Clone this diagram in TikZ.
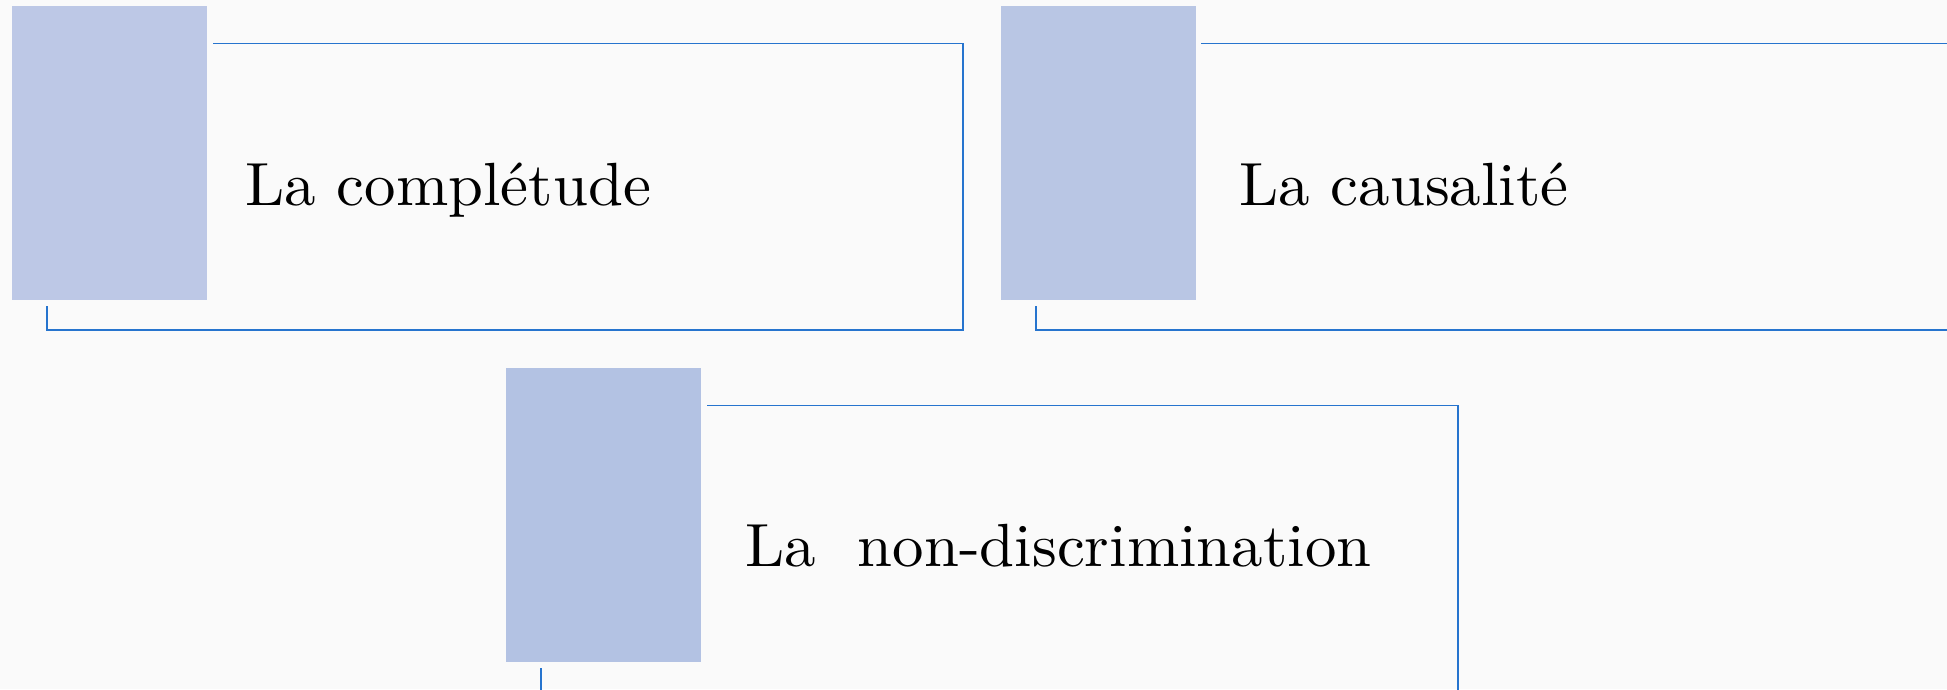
\documentclass[tikz,border=0pt]{standalone}
\usepackage{fontspec}
\newfontfamily\labelfont{lmroman10-regular}[Extension=.otf, FakeStretch=1.03]
\definecolor{bgc}{HTML}{FAFAFA}
\definecolor{linec}{RGB}{38,116,206}
\definecolor{boxa}{HTML}{BDC8E6}
\definecolor{boxb}{HTML}{B9C6E4}
\definecolor{boxc}{HTML}{B3C2E3}
\tikzset{
  tab/.style={draw=none, minimum width=195pt, minimum height=294pt, anchor=north west, inner sep=0pt},
  label/.style={anchor=base west, inner sep=0pt, font=\labelfont\fontsize{61}{70}\selectfont, text=black},
  bracket/.style={draw=linec, line width=1.6pt}
}
\begin{document}
\begin{tikzpicture}[x=1pt,y=-1pt]
\useasboundingbox (0,0) rectangle (1947,689);
\fill[bgc] (0,0) rectangle (1947,689);
% boxes
\node[tab, fill=boxa] (b1) at (12,6) {};
\node[tab, fill=boxb] (b2) at (1001,6) {};
\node[tab, fill=boxc] (b3) at (506,367.5) {};
% labels
\node[label] (t1) at (245,205) {La complétude};
\node[label] (t2) at (1239,205) {La causalité};
\node[label] (t3) at (745,566) {La\ \ non-discrimination};
% bracket 1
\coordinate (a1) at (213,43.5);
\coordinate (a2) at (963,43.5);
\coordinate (a3) at (963,330);
\coordinate (a4) at (47,330);
\coordinate (a5) at (47,306);
\draw[bracket] (a1) -- (a2) -- (a3) -- (a4) -- (a5);
% bracket 2
\coordinate (c1) at (1201,43.5);
\coordinate (c2) at (1950,43.5);
\coordinate (c3) at (1036,306);
\coordinate (c4) at (1036,330);
\coordinate (c5) at (1950,330);
\draw[bracket] (c1) -- (c2);
\draw[bracket] (c3) -- (c4) -- (c5);
% bracket 3
\coordinate (d1) at (707,405.5);
\coordinate (d2) at (1458,405.5);
\coordinate (d3) at (1458,692);
\coordinate (d4) at (541,668);
\coordinate (d5) at (541,692);
\draw[bracket] (d1) -- (d2) -- (d3);
\draw[bracket] (d4) -- (d5);
\end{tikzpicture}
\end{document}
